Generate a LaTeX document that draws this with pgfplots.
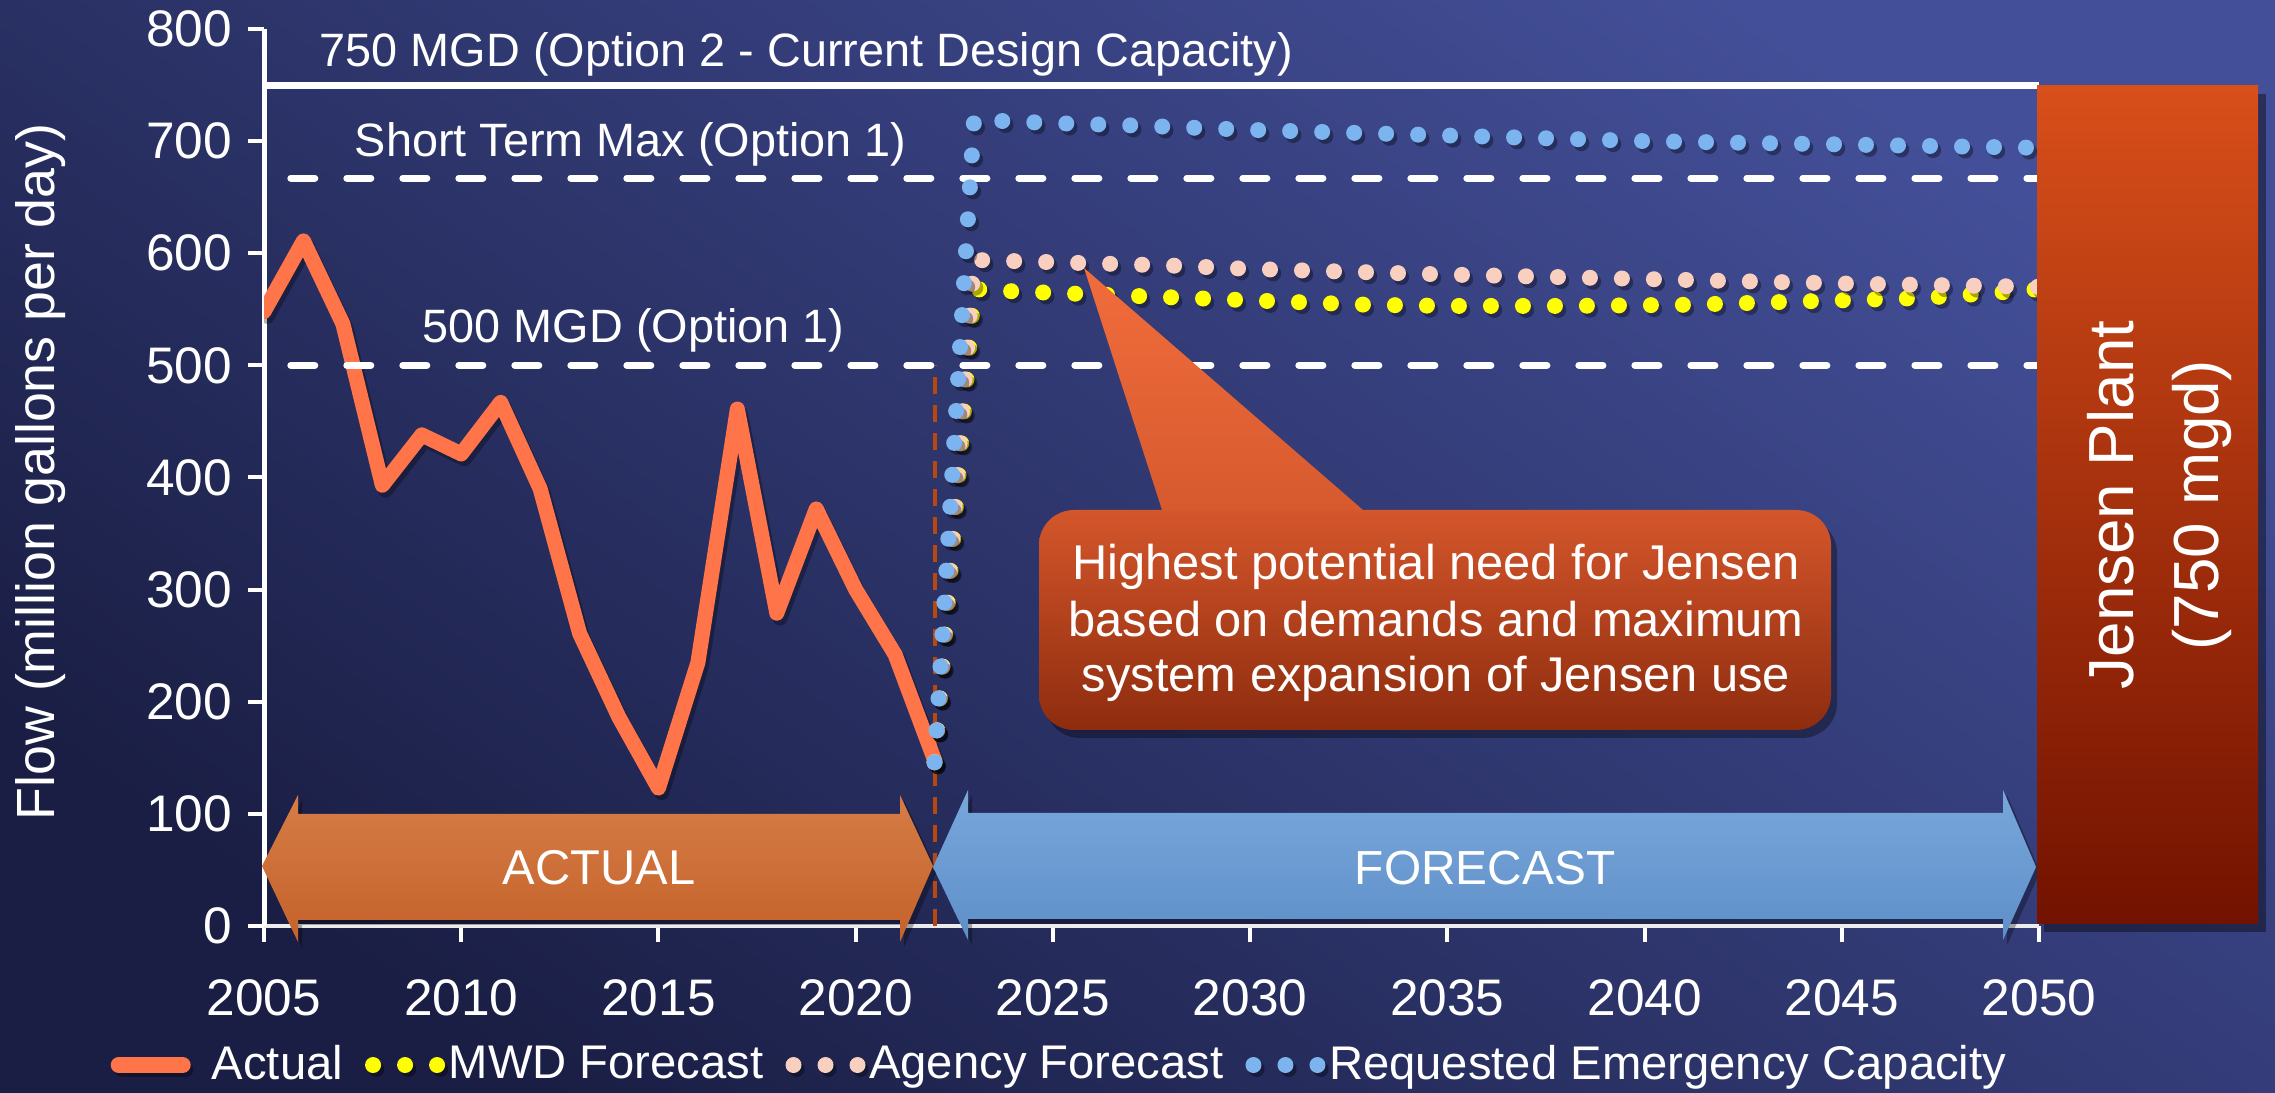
\documentclass[border=0pt]{standalone}
\usepackage{pgfplots}
\pgfplotsset{compat=1.18}
\usepackage{fontspec}
\setmainfont{Liberation Sans}
\definecolor{bgA}{HTML}{1A1E44}
\definecolor{bgB}{HTML}{434F98}
\definecolor{actualc}{HTML}{FF7449}
\definecolor{mwdc}{HTML}{FFFF00}
\definecolor{agencyc}{HTML}{F9CFC0}
\definecolor{reqc}{HTML}{7BB4EE}
\definecolor{refdash}{HTML}{B8480E}
\definecolor{boxtop}{HTML}{D4562B}
\definecolor{boxbot}{HTML}{8E2C0E}
\definecolor{jtop}{HTML}{D84F1A}
\definecolor{jmid}{HTML}{B32F08}
\definecolor{jbot}{HTML}{721200}
\definecolor{actA}{HTML}{D67C46}
\definecolor{actB}{HTML}{C4622A}
\definecolor{fcA}{HTML}{78A7DB}
\definecolor{fcB}{HTML}{5E8FC8}
\definecolor{ptrA}{HTML}{F26C3C}
\definecolor{ptrB}{HTML}{D65A2E}
\newcommand{\fs}[1]{\fontsize{#1}{#1}\selectfont}
\pgfplotsset{
  dotplot/.style={line width=4bp, line cap=round, dash pattern=on 0bp off 8bp,
    preaction={draw=black, draw opacity=0.35, line width=4bp, line cap=round, dash pattern=on 0bp off 8bp,
      transform canvas={xshift=0.8bp, yshift=-1bp}},
    legend image code/.code={\draw[##1] (0bp,0bp) -- (16bp,0bp);}},
}
\begin{document}
\begin{tikzpicture}[x=0.25bp, y=0.25bp]
\shade[bottom color=bgA, top color=bgB, shading angle=-35] (0,0) rectangle (2275,1093);
\begin{axis}[
  at={(66bp,41.75bp)}, anchor=south west, scale only axis,
  width=443.75bp, height=224.25bp,
  xmin=2005, xmax=2050, ymin=0, ymax=800,
  axis lines*=left,
  x axis line style={draw=white!85!gray, line width=1bp},
  y axis line style={draw=white, line width=1.25bp},
  xtick={2005,2010,...,2050}, ytick={0,100,...,800},
  tick align=outside, major tick length=4bp,
  every tick/.style={white, line width=1bp},
  tick label style={text=white, font=\fs{12.9}},
  /pgf/number format/assume math mode=true,
  x tick label style={/pgf/number format/1000 sep={}, yshift=-6bp},
  y tick label style={xshift=-0.5bp},
  ylabel={Flow (million gallons per day)},
  ylabel style={text=white, font=\fs{13.5}, at={(axis description cs:-0.1256,0.506)}, anchor=center},
  legend columns=4,
  legend style={at={(axis description cs:-0.0868,-0.155)}, anchor=west, draw=none, fill=none,
    inner sep=0pt, text=white, font=\fs{11.85},
    /tikz/every odd column/.append style={column sep=0.4bp},
    /tikz/every even column/.append style={column sep=5bp},
    nodes={inner sep=0.5bp}},
]
% vertical dashed divider
\addplot[refdash, line width=1bp, dash pattern=on 4.25bp off 2.75bp, forget plot] coordinates {(2022,0) (2022,500)};
\addplot[actualc, line width=3.75bp, line join=round, line cap=round,
  preaction={draw=black, draw opacity=0.3, line width=3.75bp, line join=round, transform canvas={xshift=0.8bp,yshift=-1.2bp}},
  legend image code/.code={\draw[actualc, line width=4bp, line cap=round] (0bp,0bp) -- (16bp,0bp); \path (20.5bp,0bp);}]
  coordinates {(2005,548) (2006,611) (2007,537) (2008,393) (2009,438) (2010,421) (2011,467) (2012,390)
   (2013,261) (2014,186) (2015,123) (2016,235) (2017,461) (2018,279) (2019,372) (2020,300) (2021,242) (2022,148)};
\addlegendentry{Actual}
% reference lines
\addplot[white, line width=1.75bp, forget plot] coordinates {(2005,750) (2050,750)};
\addplot[white, line width=1.75bp, line cap=round, dash pattern=on 6bp off 8bp, forget plot] coordinates {(2005.68,667) (2050,667)};
\addplot[white, line width=1.75bp, line cap=round, dash pattern=on 6bp off 8bp, forget plot] coordinates {(2005.68,500) (2050,500)};
% forecasts
\addplot[mwdc, dotplot] coordinates {(2022,146) (2023,568) (2024,566) (2027,562) (2030,558) (2033,554) (2035,553)
   (2038,553) (2041,554) (2044,557) (2047,560) (2049,565) (2050,568)};
\addlegendentry{MWD Forecast}
\addplot[agencyc, dotplot] coordinates {(2022,146) (2023,594) (2025,592) (2028,589) (2030,586) (2035,581)
   (2040,577) (2045,573) (2050,570)};
\addlegendentry{Agency Forecast}
\addplot[reqc, dotplot] coordinates {(2022,146) (2023,719) (2025,716) (2027,714) (2030,710) (2035,705)
   (2040,700) (2045,697) (2050,694)};
\addlegendentry{Requested Emergency Capacity}
\end{axis}
% reference line labels
\node[anchor=base west, inner sep=0pt, text=white, font=\fs{11.75}] at (319,1026) {750 MGD (Option 2 - Current Design Capacity)};
\node[anchor=base west, inner sep=0pt, text=white, font=\fs{11.75}] at (354,936) {Short Term Max (Option 1)};
\node[anchor=base west, inner sep=0pt, text=white, font=\fs{11.75}] at (422,750) {500 MGD (Option 1)};
% ACTUAL arrow
\fill[black, opacity=0.3] (266,222) -- (302,293) -- (302,274) -- (904,274) -- (904,293) -- (937,222) -- (904,146) -- (904,168) -- (302,168) -- (302,146) -- cycle;
\shade[top color=actA, bottom color=actB] (262,227) -- (298,298) -- (298,279) -- (900,279) -- (900,298) -- (933,227) -- (900,151) -- (900,173) -- (298,173) -- (298,151) -- cycle;
\node[text=white, font=\fs{12.25}] at (599,225) {ACTUAL};
% FORECAST arrow
\fill[black, opacity=0.3] (937,221) -- (972,298) -- (972,275) -- (2007,275) -- (2007,298) -- (2040,221) -- (2007,148) -- (2007,169) -- (972,169) -- (972,148) -- cycle;
\shade[top color=fcA, bottom color=fcB] (933,226) -- (968,303) -- (968,280) -- (2003,280) -- (2003,303) -- (2036,226) -- (2003,153) -- (2003,174) -- (968,174) -- (968,153) -- cycle;
\node[text=white, font=\fs{12}] at (1485,225) {FORECAST};
% callout
\fill[black, opacity=0.35, rounded corners=8.75bp] (1045,355) rectangle (1837,575);
\shade[top color=ptrA, bottom color=ptrB] (1162,583) -- (1084,825) -- (1363,583) -- cycle;
\shade[rounded corners=8.75bp, top color=boxtop, bottom color=boxbot] (1039,363) rectangle (1831,583);
\node[anchor=base, text=white, font=\fs{12.25}] at (1436,513) {Highest potential need for Jensen};
\node[anchor=base, text=white, font=\fs{12.25}] at (1436,456) {based on demands and maximum};
\node[anchor=base, text=white, font=\fs{12.25}] at (1436,401) {system expansion of Jensen use};
% Jensen plant box
\fill[black, opacity=0.4] (2044,161) rectangle (2266,999);
\shade[top color=jtop, middle color=jmid, bottom color=jbot] (2037,169) rectangle (2258,1007);
\node[rotate=90, anchor=base, text=white, font=\fs{16}] at (2133,588) {Jensen Plant};
\node[rotate=90, anchor=base, text=white, font=\fs{16}] at (2218,588) {(750 mgd)};
\pgfresetboundingbox
\path (0,0) rectangle (2275,1093);
\end{tikzpicture}
\end{document}
